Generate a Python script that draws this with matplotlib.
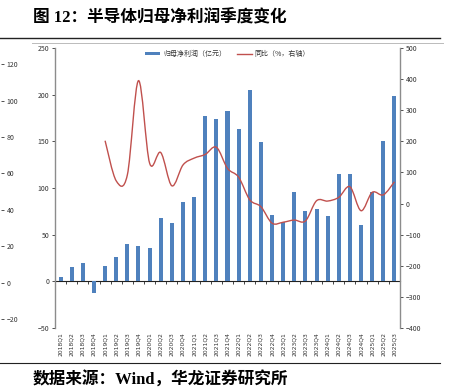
import matplotlib
matplotlib.use("Agg")
import numpy as np
import matplotlib.pyplot as plt
from matplotlib.path import Path
from matplotlib.patches import PathPatch, Patch
from matplotlib.lines import Line2D

plt.rcParams['font.family'] = ['Noto Sans CJK SC', 'DejaVu Sans']

# quarters 2018Q1 .. 2025Q3
quarters = [f"{y}Q{q}" for y in range(2018, 2026) for q in range(1, 5)][:31]

# 归母净利润 (亿元)
profit = [5, 15, 20, -13, 16, 26, 40, 38, 36, 68, 62, 85, 90,
          177, 174, 183, 163, 205, 149, 71, 64, 96, 75, 77, 70,
          115, 115, 60, 96, 150, 199]

# 同比 (%), starts 2019Q1
yoy = [202, 73, 92, 395, 130, 164, 57, 124, 146, 158, 181, 113,
       85, 12, -10, -63, -60, -53, -56, 9, 8, 20, 54, -23, 36, 28, 70]
yoy_start = 4

# stray axis of the neighbouring chart, visible at the left edge
stray_ticks = [-20, 0, 20, 40, 60, 80, 100, 120]

W, H = 455, 390
fig = plt.figure(figsize=(W / 100, H / 100), dpi=100)

ax = fig.add_axes([55 / W, (H - 328) / H, 345 / W, 280 / H])
x = np.arange(len(quarters))
ax.bar(x, profit, width=0.36, color='#4F81BD', zorder=2)
ax.set_xlim(-0.5, len(quarters) - 0.5)
ax.set_ylim(-50, 250)
ax.set_yticks(range(-50, 251, 50))
ax.set_xticks(x)
ax.set_xticklabels(quarters, rotation=90, fontsize=4.3, color='#333333',
                   family=['DejaVu Sans'])
ax.tick_params(axis='x', length=0, pad=3)
ax.tick_params(axis='y', labelsize=5, colors='#333333', length=2.5, width=0.6,
               direction='out', pad=1.5)
for s in ['top', 'bottom', 'right']:
    ax.spines[s].set_visible(False)
ax.spines['left'].set_color('#8c8c8c')
ax.spines['left'].set_linewidth(1.0)

# zero line with category ticks
zero = ax.secondary_xaxis(50 / 300)
zero.set_xticks(np.arange(len(quarters) + 1) - 0.5)
zero.tick_params(length=2, width=0.6, direction='out', labelbottom=False,
                 color='#222222')
zero.spines['bottom'].set_color('#222222')
zero.spines['bottom'].set_linewidth(0.8)

ax2 = ax.twinx()
ax2.set_ylim(-400, 500)
ax2.set_yticks(range(-400, 501, 100))
ax2.tick_params(axis='y', labelsize=5, colors='#333333', length=2.5,
                width=0.6, pad=1.5)
for s in ['top', 'bottom', 'left']:
    ax2.spines[s].set_visible(False)
ax2.spines['right'].set_color('#8c8c8c')
ax2.spines['right'].set_linewidth(1.0)

# smoothed yoy line (Catmull-Rom as cubic Bezier segments)
px = np.arange(yoy_start, yoy_start + len(yoy), dtype=float)
py = np.array(yoy, dtype=float)
pts = np.column_stack([px, py])
verts = [pts[0]]
codes = [Path.MOVETO]
n = len(pts)
for i in range(n - 1):
    p0 = pts[i - 1] if i > 0 else pts[i]
    p1 = pts[i]
    p2 = pts[i + 1]
    p3 = pts[i + 2] if i + 2 < n else pts[i + 1]
    c1 = p1 + (p2 - p0) / 6
    c2 = p2 - (p3 - p1) / 6
    verts += [c1, c2, p2]
    codes += [Path.CURVE4] * 3
ax2.add_patch(PathPatch(Path(verts, codes), fill=False, edgecolor='#C0504D',
                        linewidth=1.0, zorder=3))

handles = [Patch(facecolor='#4F81BD', edgecolor='none'),
           Line2D([], [], color='#C0504D', lw=1.0)]
leg = ax.legend(handles, ['归母净利润（亿元）', '同比（%，右轴）'], loc='upper center',
                bbox_to_anchor=(0.5, 1.015), ncol=2, frameon=False,
                fontsize=5, handlelength=2.2, handleheight=0.35,
                columnspacing=1.5, handletextpad=0.4)
for t in leg.get_texts():
    t.set_color('#333333')

# stray axis at the left edge
sax = fig.add_axes([-10 / W, (H - 328) / H, 11 / W, 280 / H])
sax.set_ylim(-24.7, 128.8)
sax.set_yticks(stray_ticks)
sax.yaxis.tick_right()
sax.tick_params(axis='y', labelsize=5, colors='#333333', length=2, width=0.6,
                pad=2)
sax.set_xticks([])
for s in sax.spines.values():
    s.set_visible(False)
sax.patch.set_visible(False)

# title, rules and source
fig.text(33 / W, 1 - 18 / H, '图 12：半导体归母净利润季度变化', fontsize=12,
         fontweight='bold', va='center', ha='left',
         family=['Liberation Serif', 'Noto Sans CJK SC'])
fig.add_artist(Line2D([0, 440 / W], [1 - 38 / H] * 2, color='#222222', lw=1.0))
fig.add_artist(Line2D([32 / W, 443 / W], [1 - 43 / H] * 2, color='#bbbbbb',
                      lw=0.7))
fig.add_artist(Line2D([0, 440 / W], [1 - 363 / H] * 2, color='#222222', lw=0.8))
fig.text(33 / W, 1 - 380 / H, '数据来源：Wind，华龙证券研究所', fontsize=12,
         fontweight='bold', va='center', ha='left',
         family=['Liberation Serif', 'Noto Sans CJK SC'])

fig.savefig('out.png', dpi=100)
